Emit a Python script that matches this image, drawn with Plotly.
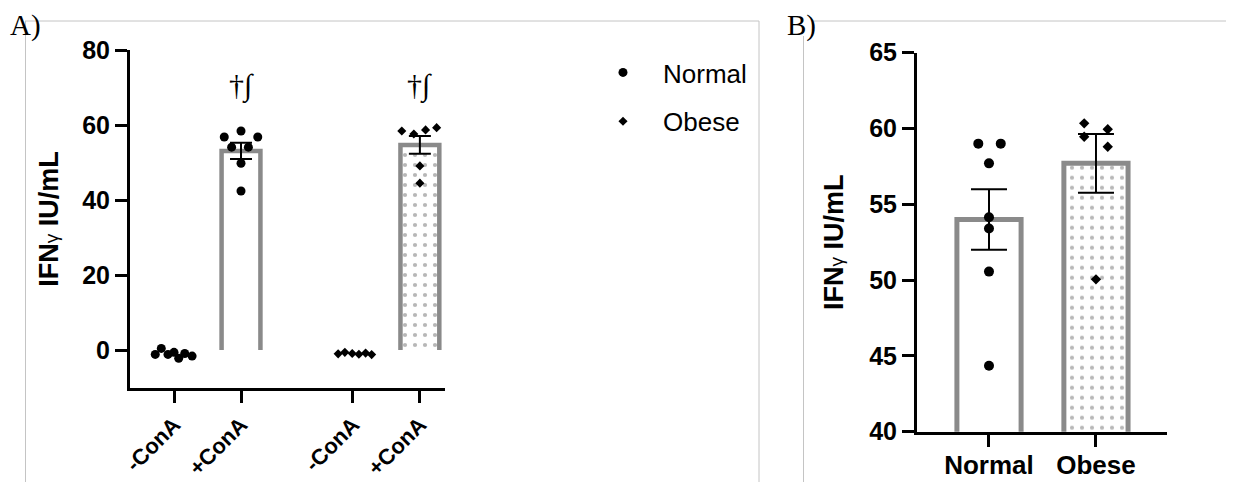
import plotly.graph_objects as go

# ---------------- data (panel A) ----------------
a_tick_pos = [0, 1, 2.67, 3.67]
a_tick_text = ["-ConA", "+ConA", "-ConA", "+ConA"]

a_norm_minus_vals = [-1.15, 0.45, -1.15, -0.6, -2.2, -0.9, -1.6]
a_norm_minus_off = [-0.28, -0.19, -0.09, 0.0, 0.07, 0.16, 0.27]
a_norm_plus_vals = [56.8, 58.4, 56.8, 54.1, 54.1, 49.8, 42.4]
a_norm_plus_off = [-0.25, 0.0, 0.25, -0.14, 0.11, 0.0, 0.0]
a_ob_minus_vals = [-1.0, -0.6, -0.9, -1.1, -0.8, -1.2]
a_ob_minus_off = [-0.22, -0.12, -0.01, 0.09, 0.19, 0.28]
a_ob_plus_vals = [58.4, 57.6, 58.7, 59.3, 49.1, 44.5]
a_ob_plus_off = [-0.27, -0.09, 0.085, 0.25, 0.0, 0.0]

a_bar_mean = [53.1, 54.7]      # +ConA Normal, +ConA Obese
a_bar_sem = [2.15, 2.35]
a_sig_text = ["†∫", "†∫"]

# ---------------- data (panel B) ----------------
b_cats = ["Normal", "Obese"]
b_norm_vals = [59.0, 59.0, 57.7, 54.15, 53.4, 50.56, 44.35]
b_norm_off = [-0.1, 0.11, 0.0, 0.0, 0.0, 0.0, 0.0]
b_ob_vals = [60.34, 59.95, 59.46, 58.8, 50.05]
b_ob_off = [-0.11, 0.11, -0.11, 0.11, 0.0]
b_mean = [54.0, 57.7]
b_sem = [2.0, 1.93]

GRAY = "#8a8a8a"
DOT = "#707070"
FONT = "Liberation Sans, Arial, sans-serif"
SERIF = "Liberation Serif, DejaVu Serif, serif"
YTITLE = 'IFN<span style="font-weight:normal;font-size:19px">γ</span> IU/mL'

fig = go.Figure()

# ---------- panel A bars ----------
a_plus_pos = [a_tick_pos[1], a_tick_pos[3]]
wA = 0.58
fig.add_trace(go.Bar(x=[a_plus_pos[0]], y=[a_bar_mean[0]], width=wA,
                     marker=dict(color="white", line=dict(width=0)),
                     xaxis="x", yaxis="y", showlegend=False, hoverinfo="skip"))
fig.add_trace(go.Bar(x=[a_plus_pos[1]], y=[a_bar_mean[1]], width=wA,
                     marker=dict(color="white", line=dict(width=0),
                                 pattern=dict(shape=".", fgcolor=DOT, bgcolor="white",
                                              size=10, solidity=0.14)),
                     xaxis="x", yaxis="y", showlegend=False, hoverinfo="skip"))
# bar outlines (open at the base, as in the original)
for c, m in zip(a_plus_pos, a_bar_mean):
    fig.add_trace(go.Scatter(x=[c - wA / 2, c - wA / 2, c + wA / 2, c + wA / 2],
                             y=[0, m, m, 0], mode="lines",
                             line=dict(color=GRAY, width=4.5),
                             xaxis="x", yaxis="y", showlegend=False, hoverinfo="skip"))

# ---------- panel A points ----------
fig.add_trace(go.Scatter(
    x=[a_tick_pos[0] + o for o in a_norm_minus_off] + [a_tick_pos[1] + o for o in a_norm_plus_off],
    y=a_norm_minus_vals + a_norm_plus_vals, mode="markers",
    marker=dict(symbol="circle", size=9, color="black"),
    name="Normal", legendgroup="n", xaxis="x", yaxis="y"))
fig.add_trace(go.Scatter(
    x=[a_tick_pos[2] + o for o in a_ob_minus_off] + [a_tick_pos[3] + o for o in a_ob_plus_off],
    y=a_ob_minus_vals + a_ob_plus_vals, mode="markers",
    marker=dict(symbol="diamond", size=7, color="black"),
    name="Obese", legendgroup="o", xaxis="x", yaxis="y"))

# error bars A
fig.add_trace(go.Scatter(x=a_plus_pos, y=a_bar_mean, mode="markers",
                         marker=dict(size=0.1, color="rgba(0,0,0,0)"),
                         error_y=dict(type="data", array=a_bar_sem, color="black",
                                      thickness=2, width=11),
                         xaxis="x", yaxis="y", showlegend=False, hoverinfo="skip"))

# ---------- panel B ----------
b_pos = [0, 1]
wB = 0.6
fig.add_trace(go.Bar(x=[b_pos[0]], y=[b_mean[0]], width=wB,
                     marker=dict(color="white", line=dict(color=GRAY, width=5)),
                     xaxis="x2", yaxis="y2", showlegend=False, hoverinfo="skip"))
fig.add_trace(go.Bar(x=[b_pos[1]], y=[b_mean[1]], width=wB,
                     marker=dict(color="white", line=dict(color=GRAY, width=5),
                                 pattern=dict(shape=".", fgcolor=DOT, bgcolor="white",
                                              size=10, solidity=0.14)),
                     xaxis="x2", yaxis="y2", showlegend=False, hoverinfo="skip"))
fig.add_trace(go.Scatter(x=[b_pos[0] + o for o in b_norm_off], y=b_norm_vals, mode="markers",
                         marker=dict(symbol="circle", size=10, color="black"),
                         xaxis="x2", yaxis="y2", showlegend=False))
fig.add_trace(go.Scatter(x=[b_pos[1] + o for o in b_ob_off], y=b_ob_vals, mode="markers",
                         marker=dict(symbol="diamond", size=8, color="black"),
                         xaxis="x2", yaxis="y2", showlegend=False))
fig.add_trace(go.Scatter(x=b_pos, y=b_mean, mode="markers",
                         marker=dict(size=0.1, color="rgba(0,0,0,0)"),
                         error_y=dict(type="data", array=b_sem, color="black",
                                      thickness=2, width=18),
                         xaxis="x2", yaxis="y2", showlegend=False, hoverinfo="skip"))

# page body has an 8px margin: the figure starts at (8, 8) in the window
OFF = 8
W, H = 1234 - OFF, 482 - OFF
def px_x(p): return (p - OFF) / W
def px_y(p): return 1 - (p - OFF) / H

axis_common = dict(showline=True, linecolor="black", linewidth=3, ticks="outside",
                   tickcolor="black", tickwidth=3, ticklen=12, showgrid=False,
                   zeroline=False, mirror=False, automargin=False)

fig.update_layout(
    width=W, height=H, margin=dict(l=0, r=0, t=0, b=0, autoexpand=False),
    paper_bgcolor="white", plot_bgcolor="white", barmode="overlay",
    font=dict(family=FONT, color="black"),
    xaxis=dict(domain=[px_x(130), px_x(445)], range=[-0.657, 4.045],
               tickmode="array", tickvals=a_tick_pos, ticktext=a_tick_text,
               tickangle=-45, tickfont=dict(size=22, weight="bold"),
               anchor="y", **axis_common),
    yaxis=dict(domain=[px_y(388), px_y(50)], range=[-10.1, 80],
               tickmode="array", tickvals=[0, 20, 40, 60, 80],
               tickfont=dict(size=25, weight="bold"),
               title=dict(text=YTITLE, font=dict(size=27, weight="bold"), standoff=16),
               anchor="x", **axis_common),
    xaxis2=dict(domain=[px_x(917), px_x(1167)], range=[-0.673, 1.664],
                tickmode="array", tickvals=b_pos, ticktext=b_cats,
                tickfont=dict(size=26, weight="bold"), ticklabelstandoff=-4,
                anchor="y2", **axis_common),
    yaxis2=dict(domain=[px_y(431.7), px_y(52.7)], range=[40, 65],
                tickmode="array", tickvals=[40, 45, 50, 55, 60, 65],
                tickfont=dict(size=25, weight="bold"),
                title=dict(text=YTITLE, font=dict(size=27, weight="bold"), standoff=18),
                anchor="x2", **axis_common),
    legend=dict(x=px_x(583), y=px_y(49), xanchor="left", yanchor="top",
                font=dict(size=26, family=FONT), itemwidth=70, tracegroupgap=12,
                bgcolor="rgba(0,0,0,0)", itemsizing="trace"),
    showlegend=True,
)

# significance marks above +ConA bars
for c, t in zip(a_plus_pos, a_sig_text):
    fig.add_annotation(x=c, y=70.5, xref="x", yref="y", text=t, showarrow=False,
                       font=dict(family=SERIF, size=30, color="black"),
                       xanchor="center", yanchor="middle")

# panel labels
fig.add_annotation(x=px_x(8), y=px_y(26), xref="paper", yref="paper", text="A)",
                   showarrow=False, xanchor="left", yanchor="middle",
                   font=dict(family=SERIF, size=29, color="black"))
fig.add_annotation(x=px_x(785), y=px_y(26), xref="paper", yref="paper", text="B)",
                   showarrow=False, xanchor="left", yanchor="middle",
                   font=dict(family=SERIF, size=29, color="black"))

# document cell borders
border = dict(color="#c4c4c4", width=1)
fig.add_shape(type="line", xref="paper", yref="paper", x0=px_x(25), x1=px_x(759),
              y0=px_y(21), y1=px_y(21), line=border)
fig.add_shape(type="line", xref="paper", yref="paper", x0=px_x(812), x1=1,
              y0=px_y(21), y1=px_y(21), line=border)
fig.add_shape(type="line", xref="paper", yref="paper", x0=px_x(25.5), x1=px_x(25.5),
              y0=px_y(21), y1=0, line=border)
fig.add_shape(type="line", xref="paper", yref="paper", x0=px_x(759), x1=px_x(759),
              y0=px_y(21), y1=0, line=border)
fig.add_shape(type="line", xref="paper", yref="paper", x0=px_x(803.5), x1=px_x(803.5),
              y0=px_y(36), y1=0, line=border)

fig.write_html("out.html")
